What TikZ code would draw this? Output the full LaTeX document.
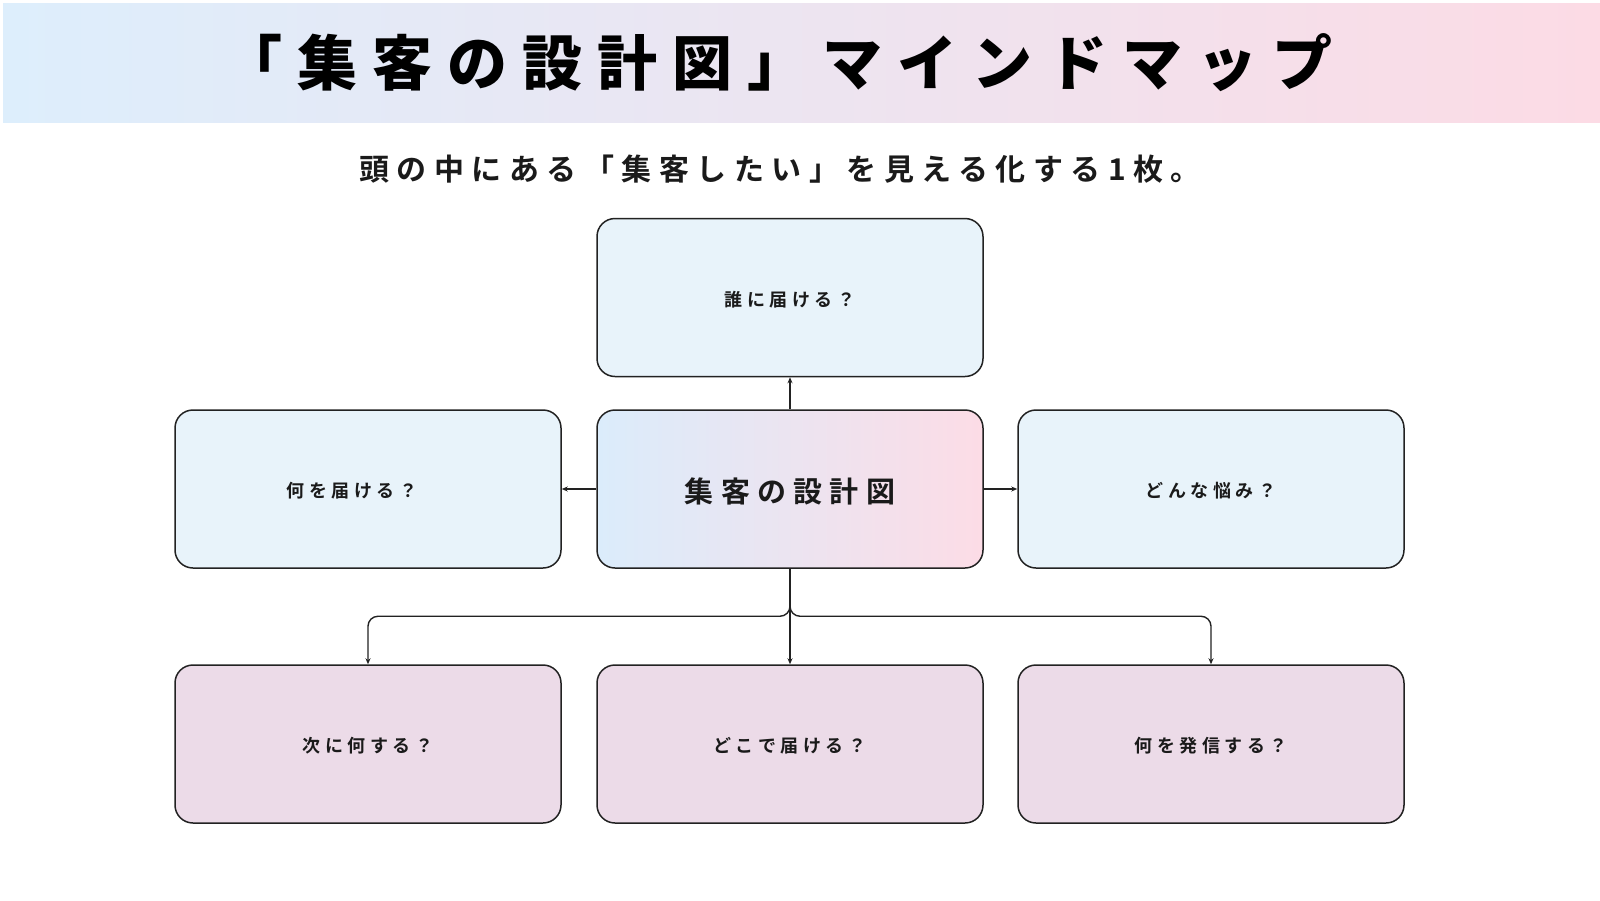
\documentclass[tikz,border=0pt]{standalone}
\usepackage{fontspec}
\usetikzlibrary{arrows.meta}
\newfontfamily\jpb{Noto Sans CJK JP Bold}[LetterSpace=25]
\newfontfamily\jpk{Noto Sans CJK JP Black}[LetterSpace=25]
\definecolor{bandl}{RGB}{221,238,252}
\definecolor{bandr}{RGB}{252,219,229}
\definecolor{boxblue}{RGB}{232,243,250}
\definecolor{boxpink}{RGB}{236,219,232}
\definecolor{ctrl}{RGB}{219,236,251}
\definecolor{ctrr}{RGB}{252,220,230}
\definecolor{linec}{RGB}{34,34,34}
\definecolor{textc}{RGB}{26,26,26}
\newcommand{\lowr}[1]{\raisebox{-2pt}[\height][\depth]{#1}}
\begin{document}
\begin{tikzpicture}[x=1pt,y=-1pt,
  box/.style={draw=linec, line width=1.5pt, rounded corners=18pt,
    minimum width=386pt, minimum height=158pt, inner sep=0pt, text=textc,
    font=\jpb\fontsize{18}{20}\selectfont},
  bluebox/.style={box, fill=boxblue},
  pinkbox/.style={box, fill=boxpink},
  centerbox/.style={box, left color=ctrl, right color=ctrr,
    font=\jpb\fontsize{29}{32}\selectfont},
  conn/.style={draw=linec, line width=1.4pt, -{Stealth[length=6pt,width=5pt]}},
]
\useasboundingbox (0,0) rectangle (1600,900);
\fill[left color=bandl, right color=bandr] (3,3) rectangle (1600,122);
\node[font=\jpk\fontsize{60}{66}\selectfont, text=black, inner sep=0pt] (title) at (777,63) {「集客の設計図」マインドマップ};
\node[font=\jpb\fontsize{30}{34}\selectfont, text=textc, inner sep=0pt] (sub) at (780,169) {頭の中にある「集客したい」を見える化する1枚。};

\node[bluebox] (top) at (790,297.5) {\lowr{誰に届ける？}};
\node[centerbox] (center) at (790,489) {\lowr{集客の設計図}};
\node[bluebox] (left) at (368,489) {\lowr{何を届ける？}\hspace*{32pt}};
\node[bluebox] (right) at (1211,489) {\lowr{どんな悩み？}};
\node[pinkbox] (bl) at (368,744) {\lowr{次に何する？}};
\node[pinkbox] (bm) at (790,744) {\lowr{どこで届ける？}};
\node[pinkbox] (br) at (1211,744) {\lowr{何を発信する？}};

\draw[conn] (center.north) -- (top.south);
\draw[conn] (center.west) -- (left.east);
\draw[conn] (center.east) -- (right.west);
\draw[conn] (center.south) -- (bm.north);
\draw[conn, rounded corners=10pt] (center.south) |- ([yshift=48pt]bl.north) -- (bl.north);
\draw[conn, rounded corners=10pt] (center.south) |- ([yshift=48pt]br.north) -- (br.north);
\end{tikzpicture}
\end{document}
